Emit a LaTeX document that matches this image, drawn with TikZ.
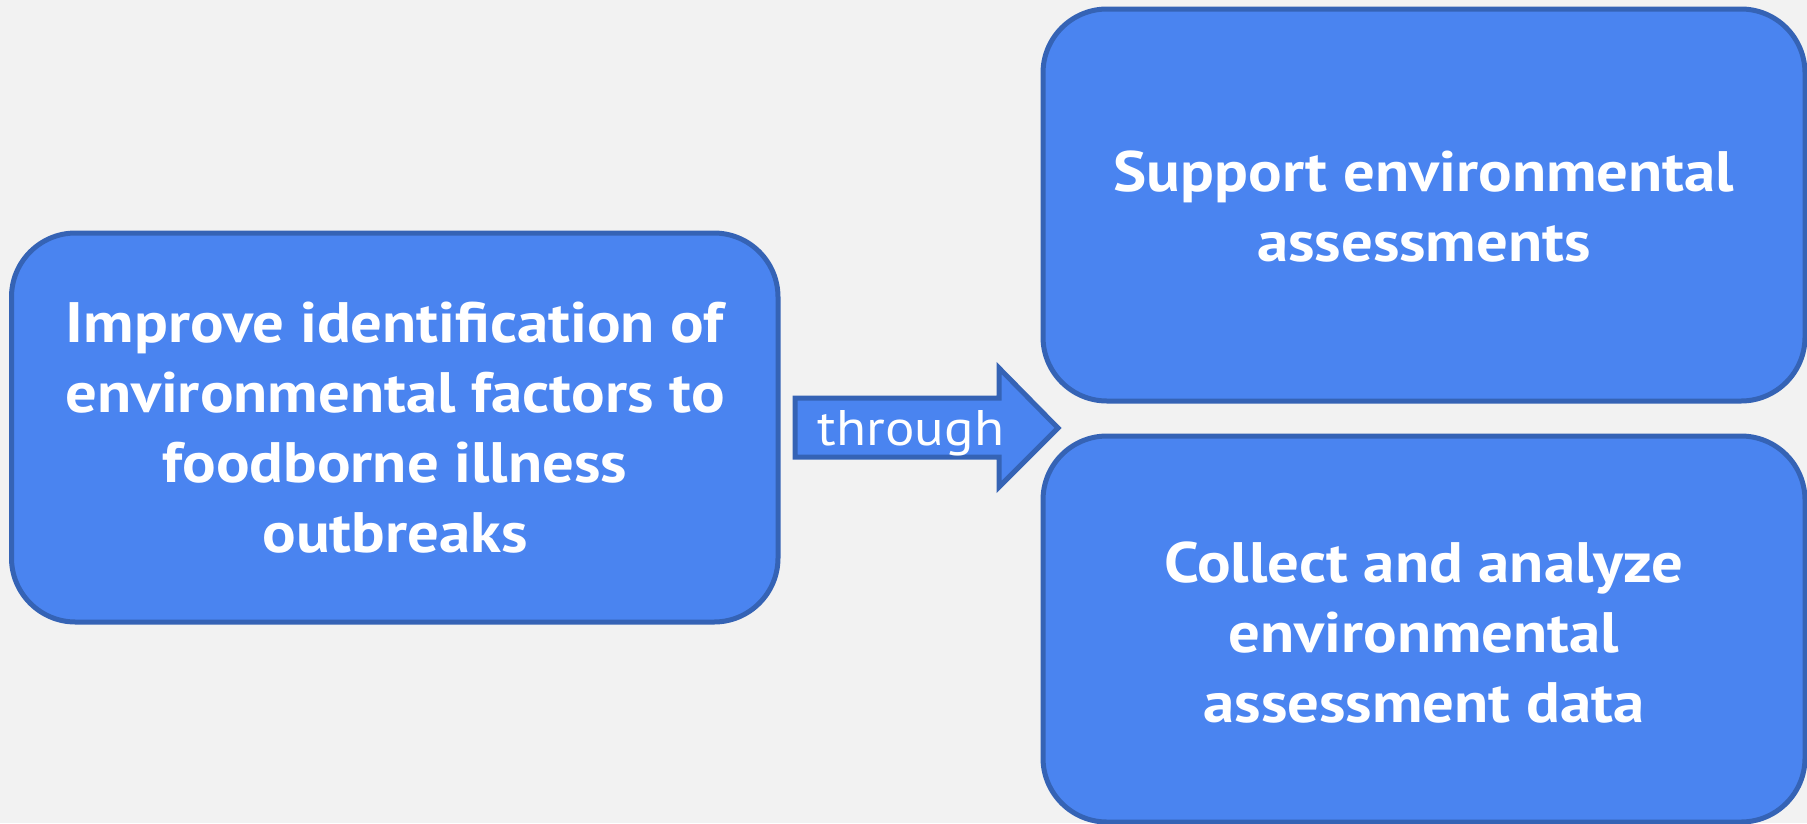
\documentclass[tikz,border=0pt]{standalone}
\usepackage{fontspec}
\setmainfont[FakeStretch=1.1]{PT Sans}
\definecolor{boxfill}{RGB}{74,132,240}
\definecolor{boxline}{RGB}{53,99,181}
\definecolor{bg}{RGB}{242,242,242}
\begin{document}
\begin{tikzpicture}[x=1pt,y=-1pt,
  blk/.style={draw=boxline,fill=boxfill,line width=5pt,rounded corners=64pt},
  bigtxt/.style={text=white,font=\bfseries\fontsize{57}{70}\selectfont,align=center,inner sep=0pt},
  smalltxt/.style={text=white,font=\fontsize{50}{60}\selectfont,inner sep=0pt}]
\useasboundingbox (0,0) rectangle (1807,823);
\fill[bg] (0,0) rectangle (1807,823);
\draw[blk] (11.5,233) rectangle (778,622);
\draw[blk] (1043,9) rectangle (1805,401);
\draw[blk] (1043,436) rectangle (1805,822);
\coordinate (a1) at (795,398);
\coordinate (a2) at (999,398);
\coordinate (a3) at (999,368);
\coordinate (tip) at (1058,428);
\coordinate (a5) at (999,487);
\coordinate (a6) at (999,457);
\coordinate (a7) at (795,457);
\draw[draw=boxline,fill=boxfill,line width=5pt,line join=miter] (a1) -- (a2) -- (a3) -- (tip) -- (a5) -- (a6) -- (a7) -- cycle;
\node[bigtxt] (goal) at (395,428) {Improve identification of\\environmental factors to\\foodborne illness\\outbreaks};
\node[bigtxt] (support) at (1424,207) {Support environmental\\assessments};
\node[bigtxt] (collect) at (1424,633) {Collect and analyze\\environmental\\assessment data};
\node[smalltxt,anchor=base] (through) at (911,445) {through};
\end{tikzpicture}
\end{document}
